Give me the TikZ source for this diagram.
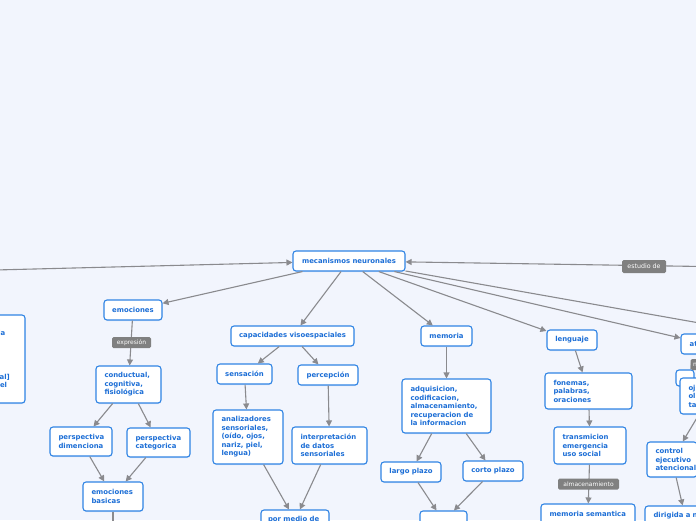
\documentclass[tikz,border=0pt]{standalone}
\usepackage{fontspec}
\setmainfont{DejaVu Sans}
\usetikzlibrary{arrows.meta,shadows}
\definecolor{bg}{RGB}{242,245,253}
\definecolor{nodeborder}{RGB}{48,132,228}
\definecolor{nodetext}{RGB}{28,110,214}
\definecolor{edgegray}{RGB}{138,138,142}
\definecolor{lblgray}{RGB}{128,128,128}
\begin{document}
\begin{tikzpicture}[x=1pt,y=-1pt,
  box/.style={draw=nodeborder, line width=1.1pt, fill=white, rounded corners=3pt,
    text=nodetext, font=\fontsize{6.9}{8.5}\selectfont\bfseries, align=left,
    inner sep=0pt,
    drop shadow={opacity=0.15, shadow xshift=0.4pt, shadow yshift=-1pt, fill=nodeborder}},
  sz/.style n args={2}{minimum width=#1pt, minimum height=#2pt},
  ml/.style={inner xsep=8.5pt, text width=#1pt},
  conn/.style={draw=edgegray, line width=1.1pt, -{Triangle[length=6pt,width=6pt]}},
  lbl/.style={fill=lblgray, text=white, rounded corners=1.5pt,
    font=\fontsize{6}{7}\selectfont, inner sep=0pt, minimum height=11pt},
  frag/.style={text=nodetext, font=\fontsize{6.9}{8.5}\selectfont\bfseries, inner sep=0pt},
]
\useasboundingbox (0,0) rectangle (696,520);
\fill[bg] (0,0) rectangle (696,520);
\clip (0,0) rectangle (696,520);

% free ends
\coordinate (lfree) at (-60,271.4);
\coordinate (rfree) at (760,267.4);
\coordinate (rfree2) at (760,333.7);
\coordinate (bfree) at (113,540);

% nodes
\node[box, sz={112}{20}] (mec) at (349,261) {mecanismos neuronales};
\node[box, sz={85}{88}] (left) at (-17.5,359) {};
\node[frag, anchor=base east] (lf1) at (5.5,335.8) {la};
\node[frag, anchor=base east] (lf2) at (10,379.6) {al]};
\node[frag, anchor=base east] (lf3) at (7.3,387.6) {el};

\node[box, sz={58}{20}] (emo) at (133,310) {emociones};
\node[box, sz={65}{37}, ml=48] (cond) at (128.5,384.5) {conductual,\\cognitiva,\\fisiológica};
\node[box, sz={62}{29}, ml=45] (dim) at (81,441.5) {perspectiva\\dimenciona};
\node[box, sz={63}{29}, ml=46] (cat) at (158.5,442.5) {perspectiva\\categorica};
\node[box, sz={60}{29}, ml=43] (bas) at (113,496.5) {emociones\\basicas};

\node[box, sz={123}{20}] (cap) at (292.5,336) {capacidades visoespaciales};
\node[box, sz={55}{20}] (sen) at (244.5,374) {sensación};
\node[box, sz={60}{20}] (per) at (328,375) {percepción};
\node[box, sz={70}{54}, ml=53] (ana) at (248,437) {analizadores\\sensoriales,\\(oído, ojos,\\nariz, piel,\\lengua)};
\node[box, sz={75}{37}, ml=58] (int) at (329.5,445.5) {interpretación\\de datos\\sensoriales};
\node[box, sz={68}{20}, ml=54, inner xsep=7pt] (por) at (295,520) {por medio de};

\node[box, sz={51}{20}] (memo) at (446.5,336) {memoria};
\node[box, sz={89}{54}, ml=72] (adq) at (446.5,406) {adquisicion,\\codificacion,\\almacenamiento,\\recuperacion de\\la informacion};
\node[box, sz={60}{20}] (lar) at (411,472) {largo plazo};
\node[box, sz={60}{20}] (cor) at (493,471) {corto plazo};
\node[box, sz={47}{20}] (mbot) at (443.5,521) {};

\node[box, sz={50}{20}] (len) at (572,340) {lenguaje};
\node[box, sz={87}{36}, ml=70] (fon) at (588.5,391) {fonemas,\\palabras,\\oraciones};
\node[box, sz={72}{37}, ml=55] (tra) at (590,445.5) {transmicion\\emergencia\\uso social};
\node[box, sz={94}{20}, ml=77] (msem) at (588,514) {memoria semantica};

\node[box, sz={51}{20}] (ate) at (706.5,344) {atención};
\node[box, sz={18}{16}] (small) at (685,378) {};
\node[box, sz={60}{36}, ml=43] (oj) at (710,396) {oj\\ol\\ta};
\node[box, sz={50}{35}, ml=33] (ctrl) at (672,459.5) {control\\ejecutivo\\atencional};
\node[box, sz={80}{20}, ml=63] (dir) at (685,516) {dirigida a n};

% connectors
\draw[conn] (lfree) -- (mec);
\draw[conn] (rfree) -- (mec);
\draw[conn] (mec) -- (emo);
\draw[conn] (mec) -- (cap);
\draw[conn] (mec) -- (memo);
\draw[conn] (mec) -- (len);
\draw[conn] (mec) -- (ate);
\draw[conn] (mec) -- (rfree2);

\draw[conn] (emo) -- (cond);
\draw[conn] (cond) -- (dim);
\draw[conn] (cond) -- (cat);
\draw[conn] (dim) -- (bas);
\draw[conn] (cat) -- (bas);
\draw[conn] (bas) -- (bfree);

\draw[conn] (cap) -- (sen);
\draw[conn] (cap) -- (per);
\draw[conn] (sen) -- (ana);
\draw[conn] (per) -- (int);
\draw[conn] (ana) -- (por);
\draw[conn] (int) -- (por);

\draw[conn] (memo) -- (adq);
\draw[conn] (adq) -- (lar);
\draw[conn] (adq) -- (cor);
\draw[conn] (lar) -- (mbot);
\draw[conn] (cor) -- (mbot);

\draw[conn] (len) -- (fon);
\draw[conn] (fon) -- (tra);
\draw[conn] (tra) -- (msem);

\draw[conn] (ate) -- (small);
\draw[conn] (oj) -- (ctrl);
\draw[conn] (ctrl) -- (dir);

% connector labels
\node[lbl, minimum width=44pt, minimum height=13pt, font=\fontsize{6.3}{7}\selectfont] (lbest) at (644,266.5) {estudio de};
\node[lbl, minimum width=39pt] (lbexp) at (131.5,342.5) {expresión};
\node[lbl, minimum width=61pt] (lbalm) at (588.5,484) {almacenamiento};
\node[lbl, minimum width=35pt, anchor=west, text width=30pt, align=left] (lbn) at (690.5,364.5) {n};
\end{tikzpicture}
\end{document}
